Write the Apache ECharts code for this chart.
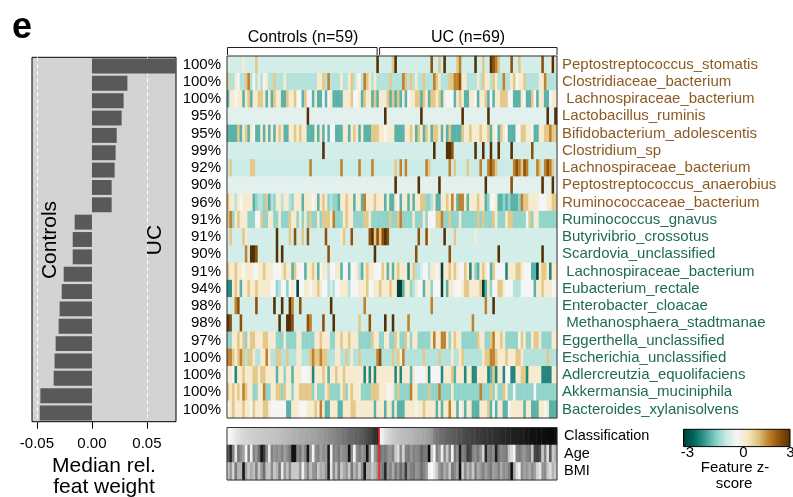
<!DOCTYPE html>
<html><head><meta charset="utf-8">
<script src="https://cdn.jsdelivr.net/npm/echarts@6.0.0/dist/echarts.min.js"></script>
<style>html,body{margin:0;padding:0;background:#fff}#c{width:793px;height:497px}</style>
</head><body><div id="c"></div>
<script>
// ---------------- data ----------------
const species = ['Peptostreptococcus_stomatis','Clostridiaceae_bacterium',' Lachnospiraceae_bacterium','Lactobacillus_ruminis','Bifidobacterium_adolescentis','Clostridium_sp','Lachnospiraceae_bacterium','Peptostreptococcus_anaerobius','Ruminococcaceae_bacterium','Ruminococcus_gnavus','Butyrivibrio_crossotus','Scardovia_unclassified',' Lachnospiraceae_bacterium','Eubacterium_rectale','Enterobacter_cloacae',' Methanosphaera_stadtmanae','Eggerthella_unclassified','Escherichia_unclassified','Adlercreutzia_equolifaciens','Akkermansia_muciniphila','Bacteroides_xylanisolvens'];
const enrichedIn = ['UC','UC','UC','UC','UC','UC','UC','UC','UC','Controls','Controls','Controls','Controls','Controls','Controls','Controls','Controls','Controls','Controls','Controls','Controls'];
const percents = [100,100,100,95,95,99,92,90,96,91,91,90,91,94,98,98,97,100,100,100,100];
const medianWeight = [0.082,0.0322,0.0288,0.027,0.0225,0.0215,0.0206,0.0179,0.0179,-0.0157,-0.0175,-0.0175,-0.0257,-0.0275,-0.0294,-0.0303,-0.033,-0.034,-0.0348,-0.0469,-0.0475];
const axisTicks = [-0.05, 0, 0.05];
const nControls = 59, nUC = 69;
const groupLabels = ['Controls (n=59)', 'UC (n=69)'];
const stripNames = ['Classification','Age','BMI'];
const colorbarTicks = ['-3','0','3'];

// z-score levels used to transcribe the heatmap cells
const levelValue = {'0':-2.9,'1':-2.0,'2':-1.5,'3':-1.05,'4':-0.75,'b':-0.55,'5':-0.45,'a':-0.25,'6':0,'7':0.45,'8':1.1,'9':1.8,'A':2.4,'B':3};

// each row: 128 cells (59 controls then 69 UC); sparse rows given as base level + spots
const heatRows = [
 '55555575555855555555555555555555'+'55555555555555555555555555B55555'+'8B5555555555555A5585B55558955555'+'B55855BA985555A55855555555A557B5',
 '84476448946474674484447444444444'+'44477849444474478476498747444448'+'44449848474484449874448899A77444'+'47487748744944786778444447794444',
 '27767727827788727287722877866286'+'62722626722227778667287728277782'+'82827267788287288782766627872277'+'62778262778886622276228627722677',
 {base:'a', spots:[[31,'B'],[61,'B'],[75,'B'],[91,'B'],[101,'B'],[124,'B'],[127,'B']]},
 '22228278276227272727872277878772'+'22727262662227727872722288877677'+'72222778728728728872728222287787'+'77877827628762226688776227788988',
 {base:'5', spots:[[37,'B'],[80,'B'],[85,'B'],[86,'B'],[87,'A'],[96,'B'],[99,'B'],[102,'B'],[105,'B'],[110,'B'],[118,'A']]},
 {base:'b', spots:[[1,'8'],[9,'8'],[10,'8'],[32,'9'],[44,'9'],[51,'9'],[56,'9'],[65,'8'],[67,'9'],[69,'9'],[77,'9'],[78,'8'],[86,'9'],[88,'8'],[93,'8'],[98,'9'],[101,'9'],[102,'A'],[103,'9'],[104,'8'],[111,'9'],[112,'A'],[113,'9'],[114,'8'],[115,'A'],[116,'9'],[120,'9'],[121,'8'],[123,'9'],[124,'A'],[125,'9'],[126,'8']]},
 {base:'a', spots:[[65,'B'],[74,'B'],[82,'B'],[100,'B'],[110,'A'],[122,'B'],[126,'B']]},
 '87747677772344382437747743777277'+'76727873433277877277297778777272'+'27627727277883347227787972997277'+'78772366722323222398877776667788',
 '89378777333668337733733387737373'+'83373888793337877333388733333338'+'33893333733373666889338333733333'+'38383338733378833333683773333333',
 {base:'5', spots:[[1,'8'],[6,'8'],[7,'7'],[19,'B'],[24,'8'],[26,'A'],[29,'8'],[31,'A'],[38,'A'],[44,'7'],[45,'8'],[48,'A'],[55,'A'],[56,'B'],[57,'8'],[58,'A'],[59,'8'],[60,'A'],[61,'B'],[62,'A'],[74,'A'],[77,'A'],[78,'7'],[84,'B'],[88,'8'],[96,'7']]},
 {base:'5', spots:[[7,'9'],[9,'B'],[10,'B'],[11,'A'],[19,'B'],[21,'B'],[39,'A'],[57,'B'],[73,'A'],[86,'A'],[105,'B'],[122,'B']]},
 '87787767776677877766678772866627'+'78726774667726626674278776668727'+'27877717844566477670778787668717'+'32787628666617778876662207887177',
 '11787277877877777663466367606677'+'67787664546677746667778667787778'+'77002773476627736660727766678877'+'77802736688766644466666277877766',
 {base:'5', spots:[[3,'9'],[4,'A'],[11,'A'],[18,'B'],[21,'B'],[24,'B'],[25,'9'],[28,'A'],[40,'B'],[53,'9'],[79,'9'],[100,'9'],[103,'B']]},
 {base:'5', spots:[[0,'B'],[1,'A'],[5,'A'],[20,'B'],[23,'B'],[24,'B'],[25,'A'],[31,'A'],[32,'9'],[37,'A'],[41,'B'],[51,'8'],[55,'A'],[61,'B'],[64,'B'],[70,'9'],[95,'9']]},
 '33778783788777887773337333377333'+'33778777337787787773333387733773'+'38733873773333379779973787733333'+'38773389778733333687337887333377',
 '99878984887447797448844844477444'+'898898844477448474484444449A4444'+'84879444444484444484444744784444'+'44478899877787778874444444448444',
 '77617787778878877772773772777666'+'71777872778778777777717171777777'+'71717772766667166661777827771771'+'17777128177166117788177777111177',
 '87878798773377933778838773778888'+'83733378333378378777333388877766'+'73833339773333833393333733333333'+'33933383733873363333333633333333',
 '67877787768777887666666227776667'+'77879722777227778877777772777277'+'27222777767787777272779772672772'+'22777826277226777772772227767222'
];

// grey levels (0 = black, 255 = white) of the annotation strips
const classGrey = [248,245,240,230,225,218,214,212,210,208,205,204,202,200,199,197,196,195,194,192,190,188,186,183,180,178,176,174,172,170,168,166,164,162,160,157,154,150,146,142,138,134,130,126,122,118,112,108,104,100,96,92,88,82,76,68,58,48,38,
 248,238,225,215,208,202,198,194,190,188,186,184,182,178,175,172,170,166,162,158,150,130,118,112,108,104,100,96,92,90,86,82,78,74,70,68,66,64,60,58,56,54,52,50,48,46,44,42,40,38,36,34,32,30,28,26,24,22,20,18,17,16,15,14,13,12,11,10,9];
const ageGrey = [90,40,130,230,120,140,160,245,130,240,130,150,110,20,60,140,235,130,150,140,150,130,160,140,120,15,20,140,120,160,130,20,150,245,140,130,160,140,150,25,240,130,140,120,150,140,130,20,140,245,140,120,150,130,20,140,240,150,120,
 110,130,120,140,150,130,200,220,140,210,130,120,150,130,140,130,100,120,120,15,200,245,130,150,240,140,200,130,245,120,140,30,130,120,60,70,130,140,120,150,210,40,130,120,140,30,120,140,130,120,200,220,245,130,120,140,150,130,120,200,70,60,80,200,130,220,90,200,180];
const bmiGrey = [200,150,210,120,180,180,20,160,200,170,190,130,200,150,110,190,200,140,200,180,120,235,150,190,140,200,200,200,150,240,170,130,190,150,140,200,170,180,150,30,230,140,190,120,200,170,150,200,120,180,150,200,140,20,170,170,200,180,150,
 140,120,40,150,130,170,120,150,110,140,60,150,130,120,150,140,110,130,150,240,250,230,200,150,130,170,150,200,120,140,160,15,200,140,180,150,200,130,170,150,130,160,140,120,160,150,130,170,140,150,130,15,160,220,240,140,160,150,170,140,160,210,230,150,140,200,220,180,200];

// ---------------- build ----------------
const FONT = 'Liberation Sans';
const brbg = ['#003c30','#01665e','#35978f','#80cdc1','#c7eae5','#f5f5f5','#f6e8c3','#dfc27d','#bf812d','#8c510a','#543005'];
const nCols = nControls + nUC;
const colNames = Array.from({length:nCols}, (_, i) => String(i));

function expandRow(r) {
  if (typeof r === 'string') return r;
  const a = new Array(nCols).fill(r.base);
  r.spots.forEach(([c, ch]) => { a[c] = ch; });
  return a.join('');
}
const heatData = [];
heatRows.forEach((r, y) => {
  const s = expandRow(r);
  for (let x = 0; x < nCols; x++) {
    const ch = s.charAt(x) || '5';
    heatData.push([x, y, levelValue[ch]]);
  }
});
const stripData = [];
[classGrey, ageGrey, bmiGrey].forEach((arr, y) => arr.forEach((g, x) => stripData.push([x, y, g])));

const G0 = {left:32, top:57.3, width:144, height:364.4};
const G1 = {left:227, top:56, width:330, height:362};
const G2 = {left:227, top:427.5, width:330, height:52.5};
const sepX = G1.left + G1.width * nControls / nCols;

function txt(text, x, y, size, opts) {
  return Object.assign({type:'text', x:x, y:y, z:100, silent:true,
    style:Object.assign({text:text, fontSize:size, fontFamily:FONT, fill:'#000', align:'center', verticalAlign:'middle'}, (opts && opts.style) || {})},
    opts && opts.rotation ? {rotation:opts.rotation} : {});
}
function line(points, color, w) {
  return {type:'polyline', z:100, silent:true, shape:{points:points}, style:{stroke:color, lineWidth:w || 1, fill:null}};
}

const chart = echarts.init(document.getElementById('c'), null, {renderer:'canvas'});
chart.setOption({
  animation:false,
  backgroundColor:'#fff',
  grid:[
    Object.assign({show:true, backgroundColor:'#d3d3d3', borderColor:'#000', borderWidth:1}, G0),
    Object.assign({show:false}, G1),
    Object.assign({show:false}, G2)
  ],
  xAxis:[
    {type:'value', gridIndex:0, min:-0.0545, max:0.0764, splitLine:{show:false}, axisLine:{show:false},
     axisTick:{show:true, customValues:axisTicks, length:7, lineStyle:{color:'#000'}},
     axisLabel:{customValues:axisTicks, formatter:v => Number(v).toFixed(2), fontSize:15, fontFamily:FONT, color:'#000', margin:15}},
    {type:'category', gridIndex:1, data:colNames, show:false},
    {type:'category', gridIndex:2, data:colNames, show:false}
  ],
  yAxis:[
    {type:'category', gridIndex:0, inverse:true, data:species, show:false},
    {type:'category', gridIndex:1, inverse:true, position:'left', data:percents.map(p => p + '%'),
     axisLine:{show:false}, axisTick:{show:false}, splitLine:{show:false},
     axisLabel:{interval:0, fontSize:15, fontFamily:FONT, color:'#000', margin:6}},
    {type:'category', gridIndex:1, inverse:true, position:'right', data:species,
     axisLine:{show:false}, axisTick:{show:false}, splitLine:{show:false},
     axisLabel:{interval:0, fontSize:15, fontFamily:FONT, margin:5,
       color:(v, i) => enrichedIn[i] === 'UC' ? '#8c5a22' : '#1f6b55'}},
    {type:'category', gridIndex:2, inverse:true, position:'right', data:stripNames,
     axisLine:{show:false}, axisTick:{show:false}, splitLine:{show:false},
     axisLabel:{interval:0, fontSize:14.5, fontFamily:FONT, color:'#000', margin:7}}
  ],
  visualMap:[
    {type:'continuous', seriesIndex:1, min:-3, max:3, show:false, inRange:{color:brbg}},
    {type:'continuous', seriesIndex:2, min:0, max:255, show:false, inRange:{color:['#000000','#ffffff']}}
  ],
  series:[
    {type:'bar', xAxisIndex:0, yAxisIndex:0, data:medianWeight, silent:true, clip:true,
     itemStyle:{color:'#595959'}, barCategoryGap:'14%',
     markLine:{silent:true, z:1, symbol:['none','none'], label:{show:false},
       lineStyle:{color:'#ffffff', type:[4,3], width:1}, data:[{xAxis:-0.05},{xAxis:0.05}]}},
    {type:'heatmap', xAxisIndex:1, yAxisIndex:1, data:heatData, silent:true, itemStyle:{borderWidth:0}},
    {type:'heatmap', xAxisIndex:2, yAxisIndex:3, data:stripData, silent:true, itemStyle:{borderWidth:0}}
  ],
  graphic:[
    txt('e', 22, 28, 36, {style:{fontWeight:'bold'}}),
    txt('Controls', 50, 240, 21, {rotation:Math.PI/2}),
    txt('UC', 155, 240, 21, {rotation:Math.PI/2}),
    txt('Median rel.', 104, 466, 21),
    txt('feat weight', 104, 487, 21),
    txt(groupLabels[0], (G1.left + sepX) / 2, 37.5, 16),
    txt(groupLabels[1], (sepX + G1.left + G1.width) / 2, 37.5, 16),
    line([[G1.left + 0.5, 55], [G1.left + 0.5, 47.5], [sepX - 2, 47.5], [sepX - 2, 55]], '#222', 1),
    line([[sepX + 0.5, 55], [sepX + 0.5, 47.5], [G1.left + G1.width, 47.5], [G1.left + G1.width, 55]], '#222', 1),
    {type:'rect', z:100, silent:true, shape:{x:G1.left, y:G1.top, width:G1.width, height:G1.height}, style:{fill:null, stroke:'#333', lineWidth:1}},
    {type:'rect', z:100, silent:true, shape:{x:G2.left, y:G2.top, width:G2.width, height:G2.height}, style:{fill:null, stroke:'#333', lineWidth:1}},
    line([[sepX, G2.top], [sepX, G2.top + G2.height]], '#ff1a1a', 1.5),
    {type:'rect', z:100, silent:true, shape:{x:683.5, y:429.3, width:106.5, height:17.3},
     style:{stroke:'#000', lineWidth:1, fill:{type:'linear', x:0, y:0, x2:1, y2:0, colorStops:brbg.map((c, i) => ({offset:i / (brbg.length - 1), color:c}))}}},
    txt(colorbarTicks[0], 687.5, 453, 15),
    txt(colorbarTicks[1], 743.5, 453, 15),
    txt(colorbarTicks[2], 790.5, 453, 15),
    txt('Feature z-', 735, 468, 15),
    txt('score', 734, 484, 15)
  ]
});
</script></body></html>
